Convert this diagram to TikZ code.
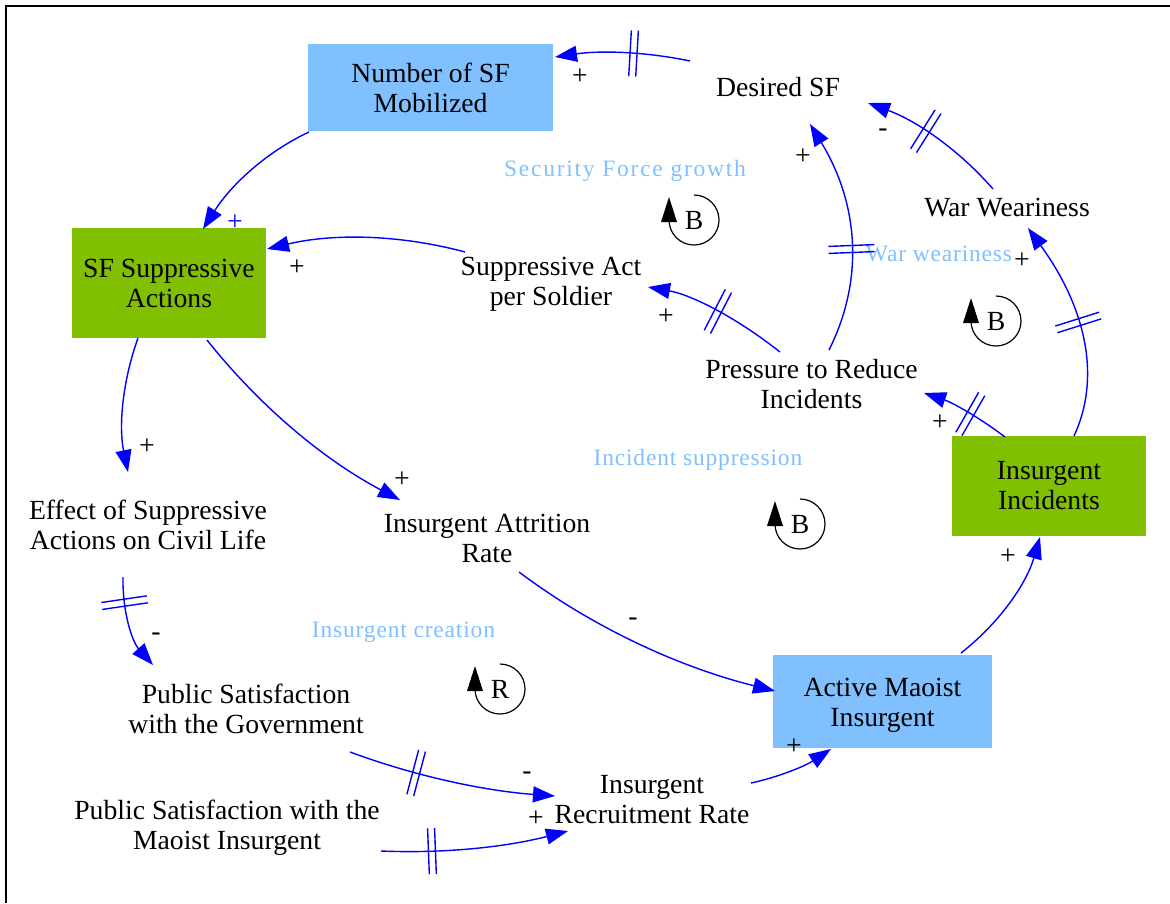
\documentclass[tikz,border=0pt]{standalone}
\usepackage{fontspec}
\setmainfont{Liberation Serif}
\newfontfamily\varfamily{Liberation Serif}
\newfontfamily\loopfamily[LetterSpace=3.5]{Liberation Serif}
\newfontfamily\loopwidefamily[LetterSpace=7.5]{Liberation Serif}
\usetikzlibrary{arrows.meta,decorations.markings}
\definecolor{boxblue}{RGB}{128,192,255}
\definecolor{boxgreen}{RGB}{128,192,0}
\definecolor{lbl}{RGB}{128,192,255}
\definecolor{linkblue}{RGB}{0,0,255}
\newcommand\mainfs{\varfamily\fontsize{27.7}{30}\selectfont}
\newcommand\loopfs{\loopfamily\fontsize{23.5}{26}\selectfont}
\newcommand\loopwidefs{\loopwidefamily\fontsize{23.5}{26}\selectfont}
\newcommand\loopmark[4]{%
  \draw[line width=1.2pt] (#2,#3-25) arc[start angle=-90,end angle=180,radius=25];
  \fill (#2-33,#3+2) -- (#2-17,#3+2) -- (#2-25,#3-23) -- cycle;
  \node[font=\mainfs,inner sep=0pt] (#1) at (#2,#3) {#4};
}
\begin{document}
\begin{tikzpicture}[x=1pt,y=-1pt,
  var/.style={align=center,font=\mainfs,inner sep=0pt},
  bbox/.style={var,fill=boxblue},
  gbox/.style={var,fill=boxgreen},
  pol/.style={font=\mainfs,inner sep=0pt},
  looplbl/.style={font=\loopfs,text=lbl,inner sep=0pt},
  link/.style={draw=linkblue,line width=1.4pt,-{Triangle[length=22pt,width=16pt]}},
  delaymark/.style={postaction={decorate},decoration={markings,mark=at position #1 with {\draw[-,linkblue,line width=1.4pt] (-3.5pt,-23pt)--(-3.5pt,23pt) (3.5pt,-23pt)--(3.5pt,23pt);}}}]
\useasboundingbox (0,0) rectangle (1170,903);
\draw[line width=2pt] (6,903) -- (6,6) -- (1170,6);

% variables
\node[bbox,minimum width=245,minimum height=87] (nsf) at (430.5,87.5) {Number of SF\\Mobilized};
\node[var] (dsf) at (778,87) {Desired SF};
\node[gbox,minimum width=194,minimum height=110] (sfsa) at (169,283) {SF Suppressive\\Actions};
\node[var] (saps) at (551,284) {Suppressive Act\\per Soldier};
\node[var] (ww) at (1007,208) {War Weariness};
\node[var] (pri) at (811.5,383.6) {Pressure to Reduce\\Incidents};
\node[gbox,minimum width=194,minimum height=100] (ii) at (1049,486) {Insurgent\\Incidents};
\node[var] (eff) at (148,525) {Effect of Suppressive\\Actions on Civil Life};
\node[var] (iar) at (487,538.6) {Insurgent Attrition\\Rate};
\node[var] (psg) at (246,708.6) {Public Satisfaction\\with the Government};
\node[bbox,minimum width=219,minimum height=93] (ami) at (882.5,701.5) {\rule{0pt}{25pt}Active Maoist\\Insurgent};
\node[var] (irr) at (652,799.6) {Insurgent\\Recruitment Rate};
\node[var] (psm) at (227,828) {Public Satisfaction with the\\Maoist Insurgent};

% loop labels
\node[looplbl,font=\loopwidefs] (lsf) at (625,171) {Security Force growth};
\node[looplbl] (lww) at (939,254) {War weariness};
\node[looplbl] (lis) at (698,460) {Incident suppression};
\node[looplbl] (lic) at (403.5,632) {Insurgent creation};
\loopmark{lb1}{694}{220}{B}
\loopmark{lb2}{996}{321}{B}
\loopmark{lb3}{800}{524}{B}
\loopmark{lr}{500}{689}{R}

% connectors
\draw[link,delaymark=0.42] ([shift={(-88,-26)}]dsf.center) .. controls (645.7,51.7) and (600.7,50.3) .. ([shift={(124.5,-30.5)}]nsf.center);
\draw[link] ([shift={(-121.5,44.5)}]nsf.center) .. controls (267,151.7) and (231.7,184) .. ([shift={(34,-54)}]sfsa.center);
\draw[link] ([shift={(-86,-32)}]saps.center) .. controls (399,234.3) and (333,233.3) .. ([shift={(98,-34)}]sfsa.center);
\draw[link,delaymark=0.5] ([shift={(-31.5,-31.6)}]pri.center) .. controls (734.7,316.3) and (690.7,294.7) .. ([shift={(97,3)}]saps.center);
\draw[link,delaymark=0.44] ([shift={(17.5,-33.6)}]pri.center) .. controls (864.7,278.7) and (858.3,203.3) .. ([shift={(32,37)}]dsf.center);
\draw[link,delaymark=0.58] ([shift={(-14,-19)}]ww.center) .. controls (958.7,149.7) and (917,121) .. ([shift={(90,16)}]dsf.center);
\draw[link,delaymark=0.52] ([shift={(25,-50)}]ii.center) .. controls (1101.3,377.3) and (1086,308) .. ([shift={(21,20)}]ww.center);
\draw[link,delaymark=0.45] ([shift={(-44,-49)}]ii.center) .. controls (978.7,417) and (951.7,402.3) .. ([shift={(112.5,9.4)}]pri.center);
\draw[link] ([shift={(-31,55)}]sfsa.center) .. controls (122,382.7) and (118.7,427.3) .. ([shift={(-20,-53)}]eff.center);
\draw[link] ([shift={(38,57)}]sfsa.center) .. controls (260,406.7) and (324.3,460) .. ([shift={(-87,-38.6)}]iar.center);
\draw[link,delaymark=0.27] ([shift={(-25,52)}]eff.center) .. controls (122.3,612.3) and (132.3,641.7) .. ([shift={(-93,-43.6)}]psg.center);
\draw[link] ([shift={(32,33.4)}]iar.center) .. controls (592.3,627) and (677.7,666.7) .. ([shift={(-107.5,-10.5)}]ami.center);
\draw[link,delaymark=0.33] ([shift={(104,43.4)}]psg.center) .. controls (415,776) and (483.3,790.7) .. ([shift={(-97,-3.6)}]irr.center);
\draw[link,delaymark=0.27] ([shift={(154,23)}]psm.center) .. controls (444,853.7) and (506.3,847) .. ([shift={(-84,31.4)}]irr.center);
\draw[link] ([shift={(99,-16.6)}]irr.center) .. controls (779,777) and (805.7,765.7) .. ([shift={(-51.5,47.5)}]ami.center);
\draw[link] ([shift={(78.5,-48.5)}]ami.center) .. controls (1000,622.3) and (1026.3,583.7) .. ([shift={(-9,51)}]ii.center);

% polarities
\node[pol] (p1) at (580,77) {+};
\node[pol,text=linkblue] (p2) at (235,223) {+};
\node[pol] (p3) at (297,268) {+};
\node[pol] (p4) at (666,317) {+};
\node[pol] (p5) at (803,157) {+};
\node[pol] (p6) at (883,133) {-};
\node[pol] (p7) at (1022,261) {+};
\node[pol] (p8) at (940,423) {+};
\node[pol] (p9) at (147,447) {+};
\node[pol] (p10) at (402,480) {+};
\node[pol] (p11) at (156,637) {-};
\node[pol] (p12) at (633,622) {-};
\node[pol] (p13) at (527,776) {-};
\node[pol] (p14) at (536,819) {+};
\node[pol] (p15) at (794,747) {+};
\node[pol] (p16) at (1008,557) {+};
\end{tikzpicture}
\end{document}
